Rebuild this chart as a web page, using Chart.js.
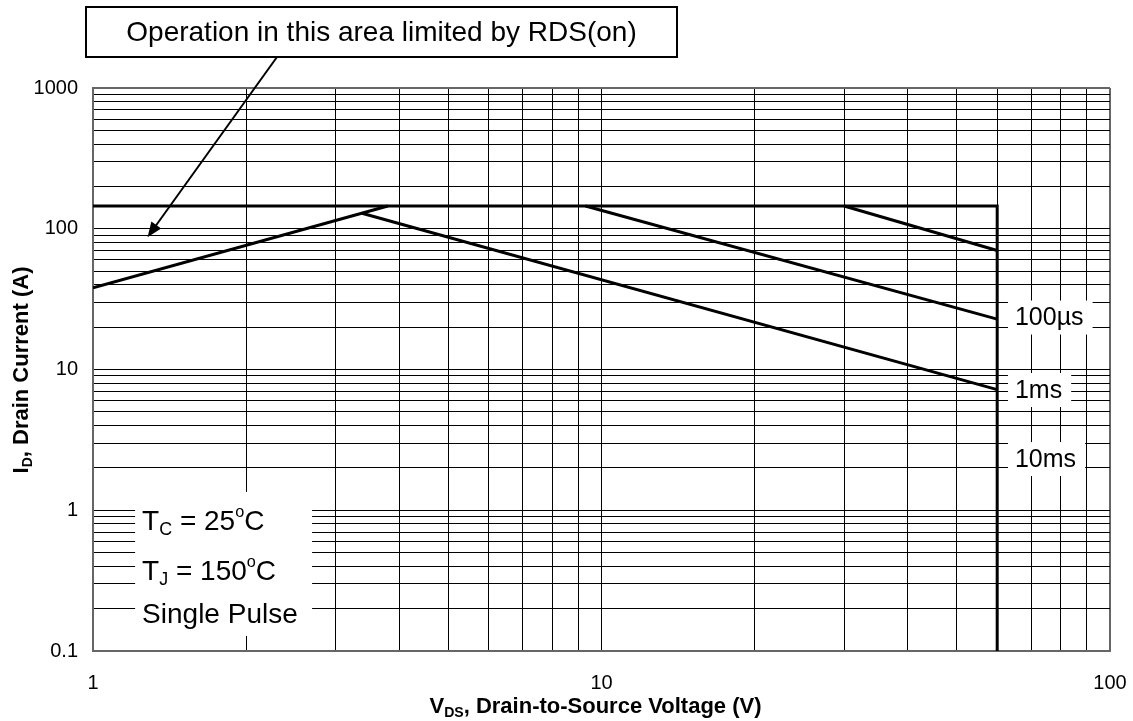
<!DOCTYPE html>
<html>
<head>
<meta charset="utf-8">
<script src="https://cdn.jsdelivr.net/npm/chart.js@4/dist/chart.umd.min.js"></script>
<style>
  html, body { margin:0; padding:0; background:#fff; }
  #soa { display:block; }
</style>
</head>
<body>
<canvas id="soa" width="1133" height="721"></canvas>
<script>
// ─── Data ───────────────────────────────────────────────────────────
const xMajor = [1, 10, 100];                 // VDS decades
const yMajor = [0.1, 1, 10, 100, 1000];      // ID decades
const minorSteps = [1, 2, 3, 4, 5, 6, 7, 8, 9];

// package / BVDSS limit
const limitV = [1, 60, 60];
const limitI = [145, 145, 0.1];
// RDS(on) limit
const rdsV = [1, 3.8];
const rdsI = [38, 145];
// pulse curves
const us100V = [30, 60];
const us100I = [145, 70];
const ms1V = [9.3, 60];
const ms1I = [145, 22.8];
const ms10V = [3.38, 60];
const ms10I = [129, 7.2];

const pulseNames = ['100µs', '1ms', '10ms'];
const condLines = [
    [{t:'T'}, {t:'C', sub:true}, {t:' = 25'}, {t:'o', sup:true}, {t:'C'}],
    [{t:'T'}, {t:'J', sub:true}, {t:' = 150'}, {t:'o', sup:true}, {t:'C'}],
    [{t:'Single Pulse'}]
];
const noteText = 'Operation in this area limited by RDS(on)';

const FONT = '"Liberation Sans", Arial, Helvetica, sans-serif';

function pts(xs, ys) { return xs.map((v, i) => ({ x: v, y: ys[i] })); }

function logTicks(majors) {
    const out = [];
    for (let i = 0; i < majors.length - 1; i++)
        minorSteps.forEach(k => out.push(k * majors[i]));
    out.push(majors[majors.length - 1]);
    return out;
}

function isMajor(v, majors) { return majors.some(m => Math.abs(m - v) < m * 1e-6); }

// draw text with sub/superscript parts, alphabetic baseline at y
function drawParts(ctx, parts, x, y, size, weight) {
    let cx = x;
    parts.forEach(p => {
        let fs = size, dy = 0;
        if (p.sub) { fs = size * 0.64; dy = size * 0.18; }
        if (p.sup) { fs = size * 0.58; dy = -size * 0.45; }
        ctx.font = `${weight} ${fs}px ${FONT}`;
        ctx.fillText(p.t, cx, y + dy);
        cx += ctx.measureText(p.t).width;
    });
    return cx - x;
}
function partsWidth(ctx, parts, size, weight) {
    let w = 0;
    parts.forEach(p => {
        let fs = size;
        if (p.sub) fs = size * 0.64;
        if (p.sup) fs = size * 0.58;
        ctx.font = `${weight} ${fs}px ${FONT}`;
        w += ctx.measureText(p.t).width;
    });
    return w;
}

// ─── Annotations ────────────────────────────────────────────────────
const soaNotes = {
    id: 'soaNotes',
    afterDatasetsDraw(chart) {
        const { ctx, scales: { x, y } } = chart;
        ctx.save();
        ctx.fillStyle = '#000';

        // pulse width labels, white knock-out behind
        const labelAt = [[63, 23.4], [63, 7.15], [63, 2.31]];
        ctx.font = `25px ${FONT}`;
        ctx.textBaseline = 'middle';
        ctx.textAlign = 'left';
        pulseNames.forEach((txt, i) => {
            const px = x.getPixelForValue(labelAt[i][0]);
            const py = y.getPixelForValue(labelAt[i][1]);
            const w = ctx.measureText(txt).width;
            ctx.fillStyle = '#fff';
            ctx.fillRect(px, py - 17, w + 16, 34);
            ctx.fillStyle = '#000';
            ctx.fillText(txt, px + 7, py + 1);
        });

        // test conditions box
        const bx = x.getPixelForValue(1.21), by = y.getPixelForValue(1.35);
        const bw = 177, bh = 144;
        ctx.fillStyle = '#fff';
        ctx.fillRect(bx, by, bw, bh);
        ctx.fillStyle = '#000';
        ctx.textBaseline = 'alphabetic';
        const baseOff = [38, 88, 131];
        condLines.forEach((parts, i) => drawParts(ctx, parts, bx + 7, by + baseOff[i], 28, 'normal'));

        // RDS(on) note box + arrow
        const nx = 86, ny = 7, nw = 591, nh = 50;
        ctx.fillStyle = '#fff';
        ctx.fillRect(nx, ny, nw, nh);
        ctx.strokeStyle = '#000';
        ctx.lineWidth = 2;
        ctx.strokeRect(nx, ny, nw, nh);
        ctx.fillStyle = '#000';
        ctx.font = `28px ${FONT}`;
        ctx.textAlign = 'center';
        ctx.textBaseline = 'middle';
        ctx.fillText(noteText, nx + nw / 2, ny + nh / 2 + 1);

        const ax0 = 277, ay0 = ny + nh;
        const ax1 = x.getPixelForValue(1.28), ay1 = y.getPixelForValue(87);
        const ang = Math.atan2(ay1 - ay0, ax1 - ax0);
        const hl = 15, hw = 6;
        ctx.beginPath();
        ctx.moveTo(ax0, ay0);
        ctx.lineTo(ax1 - Math.cos(ang) * hl * 0.8, ay1 - Math.sin(ang) * hl * 0.8);
        ctx.stroke();
        ctx.beginPath();
        ctx.moveTo(ax1, ay1);
        ctx.lineTo(ax1 - Math.cos(ang) * hl + Math.sin(ang) * hw, ay1 - Math.sin(ang) * hl - Math.cos(ang) * hw);
        ctx.lineTo(ax1 - Math.cos(ang) * hl - Math.sin(ang) * hw, ay1 - Math.sin(ang) * hl + Math.cos(ang) * hw);
        ctx.closePath();
        ctx.fill();
        ctx.restore();
    },
    afterDraw(chart) {
        // axis titles with subscripts
        const { ctx, chartArea: a } = chart;
        ctx.save();
        ctx.fillStyle = '#000';
        ctx.textAlign = 'left';
        ctx.textBaseline = 'alphabetic';
        const xt = [{t:'V'}, {t:'DS', sub:true}, {t:', Drain-to-Source Voltage (V)'}];
        const xw = partsWidth(ctx, xt, 22, 'bold');
        drawParts(ctx, xt, (a.left + a.right) / 2 - xw / 2 - 6, 713, 22, 'bold');

        const yt = [{t:'I'}, {t:'D', sub:true}, {t:', Drain Current (A)'}];
        const yw = partsWidth(ctx, yt, 22, 'bold');
        ctx.translate(28, 370);
        ctx.rotate(-Math.PI / 2);
        drawParts(ctx, yt, -yw / 2, 0, 22, 'bold');
        ctx.restore();
    }
};

function edgeColor(c) {
    const s = c.scale;
    return (c.tick && (c.tick.value === s.max || c.tick.value === s.min)) ? '#666' : '#000';
}
function edgeWidth(c) {
    const s = c.scale;
    return (c.tick && (c.tick.value === s.max || c.tick.value === s.min)) ? 2 : 1;
}

const lineStyle = { borderColor:'#000', borderWidth:3, pointRadius:0, showLine:true, fill:false, tension:0 };

new Chart(document.getElementById('soa'), {
    type: 'scatter',
    data: {
        datasets: [
            { label:'Limit', data: pts(limitV, limitI), ...lineStyle },
            { label:'RDS(on)', data: pts(rdsV, rdsI), ...lineStyle },
            { label:'100us', data: pts(us100V, us100I), ...lineStyle },
            { label:'1ms', data: pts(ms1V, ms1I), ...lineStyle },
            { label:'10ms', data: pts(ms10V, ms10I), ...lineStyle }
        ]
    },
    options: {
        responsive: false,
        animation: false,
        devicePixelRatio: 1,
        layout: { padding: { left:0, right:23, top:88, bottom:0 } },
        plugins: { legend:{display:false}, tooltip:{enabled:false} },
        scales: {
            x: {
                type:'logarithmic', min: xMajor[0], max: xMajor[xMajor.length - 1],
                afterBuildTicks: s => { s.ticks = logTicks(xMajor).map(v => ({ value: v })); },
                afterFit: s => { s.height = 70; s.paddingLeft = 0; s.paddingRight = 0; },
                grid: { color: edgeColor, lineWidth: edgeWidth, drawTicks:false },
                border: { color:'#666', width:2 },
                ticks: {
                    autoSkip:false, maxRotation:0, padding:20, color:'#000',
                    font: { family: FONT, size: 20 },
                    callback: v => isMajor(v, xMajor) ? String(v) : ''
                }
            },
            y: {
                type:'logarithmic', min: yMajor[0], max: yMajor[yMajor.length - 1],
                afterBuildTicks: s => { s.ticks = logTicks(yMajor).map(v => ({ value: v })); },
                afterFit: s => { s.width = 93; s.paddingTop = 0; s.paddingBottom = 0; },
                grid: { color: edgeColor, lineWidth: edgeWidth, drawTicks:false },
                border: { color:'#666', width:2 },
                ticks: {
                    autoSkip:false, padding:15, color:'#000',
                    font: { family: FONT, size: 20 },
                    callback: v => isMajor(v, yMajor) ? String(v) : ''
                }
            }
        }
    },
    plugins: [soaNotes]
});
</script>
</body>
</html>
